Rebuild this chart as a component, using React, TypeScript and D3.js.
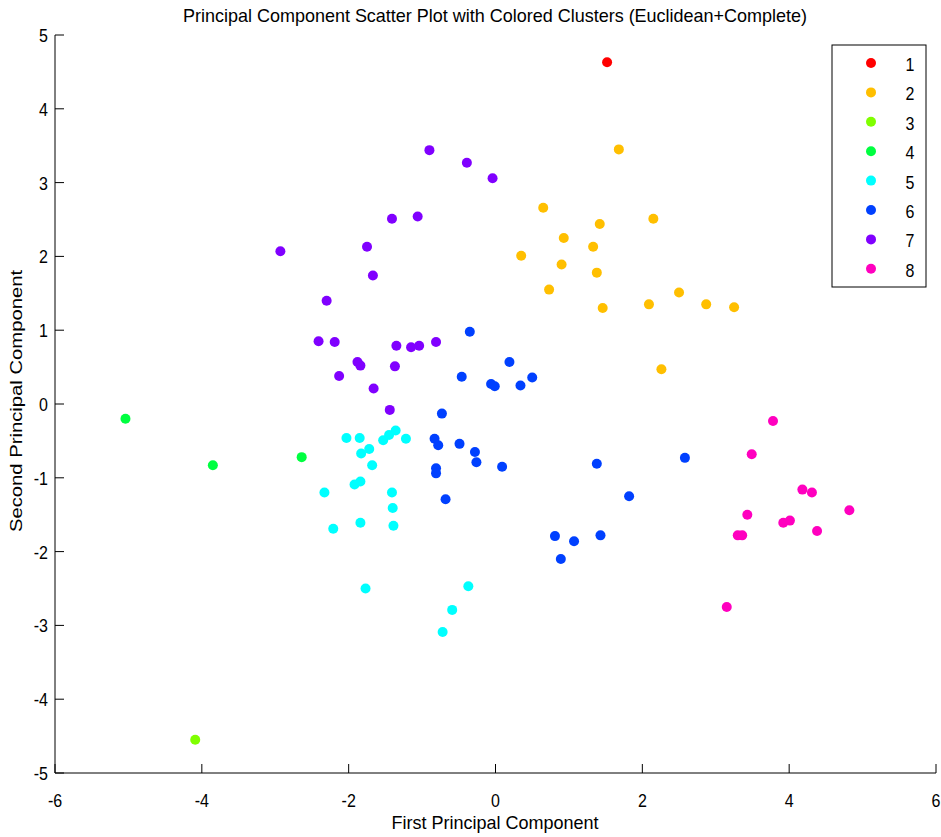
import React from "react";
import * as d3 from "d3";

const clusterNames = ["1", "2", "3", "4", "5", "6", "7", "8"];
const clusterColors = ["#ff0000", "#ffbf00", "#80ff00", "#00ff40", "#00ffff", "#0040ff", "#8000ff", "#ff00bf"];

const c1: [number, number][] = [[1.52, 4.63]];
const c2: [number, number][] = [
  [1.68, 3.45], [0.65, 2.66], [2.15, 2.51], [1.42, 2.44], [0.93, 2.25], [1.33, 2.13],
  [0.35, 2.01], [0.90, 1.89], [1.38, 1.78], [0.73, 1.55], [2.50, 1.51], [1.46, 1.30],
  [2.09, 1.35], [2.87, 1.35], [3.25, 1.31], [2.26, 0.47],
];
const c3: [number, number][] = [[-4.09, -4.55]];
const c4: [number, number][] = [[-5.04, -0.20], [-3.85, -0.83], [-2.64, -0.72]];
const c5: [number, number][] = [
  [-2.03, -0.46], [-1.85, -0.46], [-1.53, -0.49], [-1.45, -0.42], [-1.36, -0.36], [-1.22, -0.47],
  [-1.72, -0.61], [-1.83, -0.67], [-1.68, -0.83], [-1.92, -1.09], [-1.84, -1.05], [-2.33, -1.20],
  [-1.41, -1.20], [-1.40, -1.41], [-1.84, -1.61], [-1.39, -1.65], [-2.21, -1.69], [-1.77, -2.50],
  [-0.37, -2.47], [-0.59, -2.79], [-0.72, -3.09],
];
const c6: [number, number][] = [
  [-0.35, 0.98], [0.19, 0.57], [-0.46, 0.37], [-0.06, 0.27], [-0.01, 0.24], [0.34, 0.25],
  [0.50, 0.36], [-0.73, -0.13], [-0.83, -0.47], [-0.78, -0.56], [-0.49, -0.54], [-0.28, -0.65],
  [-0.26, -0.79], [0.09, -0.85], [-0.81, -0.87], [-0.81, -0.94], [-0.68, -1.29], [1.38, -0.81],
  [2.58, -0.73], [1.82, -1.25], [0.81, -1.79], [1.07, -1.86], [1.43, -1.78], [0.89, -2.10],
];
const c7: [number, number][] = [
  [-0.90, 3.44], [-0.39, 3.27], [-0.04, 3.06], [-1.41, 2.51], [-1.06, 2.54], [-2.93, 2.07],
  [-1.75, 2.13], [-1.67, 1.74], [-2.30, 1.40], [-2.41, 0.85], [-2.19, 0.84], [-1.35, 0.79],
  [-1.15, 0.77], [-1.04, 0.79], [-0.81, 0.84], [-1.88, 0.57], [-1.84, 0.52], [-1.37, 0.51],
  [-2.13, 0.38], [-1.66, 0.21], [-1.44, -0.08],
];
const c8: [number, number][] = [
  [3.78, -0.23], [3.49, -0.68], [4.18, -1.16], [4.31, -1.20], [4.82, -1.44], [3.43, -1.50],
  [3.92, -1.61], [4.01, -1.58], [4.38, -1.72], [3.30, -1.78], [3.36, -1.78], [3.15, -2.75],
];
const clusters = [c1, c2, c3, c4, c5, c6, c7, c8];

const xTicks = [-6, -4, -2, 0, 2, 4, 6];
const yTicks = [-5, -4, -3, -2, -1, 0, 1, 2, 3, 4, 5];

const W = 941;
const H = 837;
const font = "Liberation Sans, Arial, sans-serif";
const SY = 1.2;

function T(props: {
  x: number; y: number; size: number; anchor?: string; children: React.ReactNode; len?: number;
}) {
  return (
    <g transform={`translate(${props.x},${props.y}) scale(1,${SY})`}>
      <text x={0} y={0} textAnchor={props.anchor || "middle"} fontFamily={font} fontSize={props.size}
        textLength={props.len} lengthAdjust={props.len ? "spacingAndGlyphs" : undefined} fill="#000">
        {props.children}
      </text>
    </g>
  );
}

export default function App() {
  const x = d3.scaleLinear().domain([-6, 6]).range([55, 936]);
  const y = d3.scaleLinear().domain([-5, 5]).range([773, 35]);
  const tick = 9;
  return (
    <svg width={W} height={H} style={{ position: "absolute", left: 0, top: 0, background: "#fff" }}>
      <rect x={0} y={0} width={W} height={H} fill="#fff" />
      <T x={495} y={22} size={16} len={624}>
        Principal Component Scatter Plot with Colored Clusters (Euclidean+Complete)
      </T>
      {/* axes */}
      <line x1={x(-6)} x2={x(6)} y1={y(-5)} y2={y(-5)} stroke="#000" strokeWidth={1} />
      <line x1={x(-6)} x2={x(-6)} y1={y(-5)} y2={y(5)} stroke="#000" strokeWidth={1} />
      {xTicks.map((t) => (
        <g key={"xt" + t}>
          <line x1={x(t)} x2={x(t)} y1={y(-5)} y2={y(-5) - tick} stroke="#000" />
          <T x={x(t)} y={y(-5) + 34} size={16}>{t}</T>
        </g>
      ))}
      {yTicks.map((t) => (
        <g key={"yt" + t}>
          <line x1={x(-6)} x2={x(-6) + tick} y1={y(t)} y2={y(t)} stroke="#000" />
          <T x={x(-6) - 7} y={y(t) + 7} size={16} anchor="end">{t}</T>
        </g>
      ))}
      <T x={495} y={829} size={16} len={207}>First Principal Component</T>
      <text transform={`translate(22,401) rotate(-90)`} textAnchor="middle" fontFamily={font} fontSize={16}
        textLength={262} lengthAdjust="spacingAndGlyphs">
        Second Principal Component
      </text>
      {/* points */}
      {clusters.map((pts, ci) => (
        <g key={"c" + ci}>
          {pts.map((p, i) => (
            <circle key={i} cx={x(p[0])} cy={y(p[1])} r={5} fill={clusterColors[ci]} />
          ))}
        </g>
      ))}
      {/* legend */}
      <rect x={832} y={45} width={94} height={242} fill="#fff" stroke="#000" strokeWidth={1} />
      {clusterNames.map((n, i) => (
        <g key={"lg" + n}>
          <circle cx={871} cy={63 + i * 29.4} r={5} fill={clusterColors[i]} />
          <T x={910} y={63 + i * 29.4 + 8} size={16}>{n}</T>
        </g>
      ))}
    </svg>
  );
}
